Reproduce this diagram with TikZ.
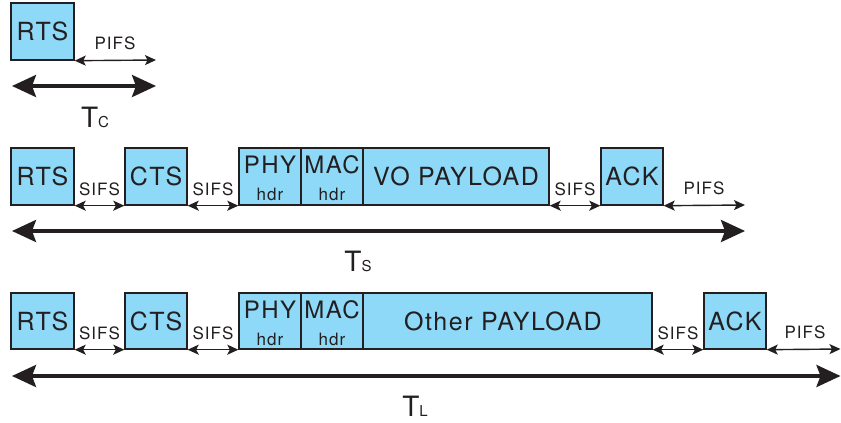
\documentclass[tikz,border=0pt]{standalone}
\usepackage{fontspec}
\setmainfont{TeX Gyre Heros}[LetterSpace=6]
\usetikzlibrary{arrows.meta}
\definecolor{boxblue}{HTML}{8ED8F8}
\definecolor{ink}{HTML}{231F20}
\tikzset{
  fr/.style={draw=ink, line width=1.4pt, fill=boxblue, inner sep=0pt, minimum height=57pt},
  big/.style={font=\fontsize{25}{25}\selectfont, text=ink, inner sep=0pt},
  mid/.style={font=\fontsize{24}{24}\selectfont, text=ink, inner sep=0pt},
  hdr/.style={font=\fontsize{17}{17}\selectfont, text=ink, inner sep=0pt},
  lab/.style={font=\fontsize{17}{17}\selectfont, text=ink, inner sep=0pt},
  tlab/.style={font=\fontsize{28}{28}\selectfont, text=ink, inner sep=0pt, anchor=base},
  sarr/.style={draw=ink, line width=1.4pt, {Stealth[length=11pt,width=10pt,inset=2.5pt]}-{Stealth[length=11pt,width=10pt,inset=2.5pt]}},
  barr/.style={draw=ink, line width=3.6pt, {Stealth[length=24pt,width=22pt,inset=4pt]}-{Stealth[length=24pt,width=22pt,inset=4pt]}}
}
\newcommand{\subT}[1]{T{\fontsize{15}{15}\selectfont #1}}
\begin{document}
\begin{tikzpicture}[x=1pt,y=-1pt]
\useasboundingbox (0,0) rectangle (841,423);
% ---------- Row 1 ----------
\node[fr, minimum width=63pt] (rts1) at (42.5,31.5) {};
\node[big] (trts1) at (rts1.center) {RTS};
\coordinate (p1e) at (156,60);
\draw[sarr] (rts1.south east) -- (p1e);
\node[lab] (pifs1) at (115,43) {PIFS};
\coordinate (c0) at (12,86);
\coordinate (c1) at (156,86);
\draw[barr] (c0) -- (c1);
\node[tlab] (tc) at (95,127) {\subT{C}};
% ---------- Row 2 ----------
\node[fr, minimum width=63pt] (rts2) at (42.5,176.5) {};
\node[big] (trts2) at (rts2.center) {RTS};
\node[fr, minimum width=62pt] (cts2) at (156,176.5) {};
\node[big] (tcts2) at (cts2.center) {CTS};
\node[fr, minimum width=62pt] (phy2) at (270,176.5) {};
\node[mid] (tphy2) at (270,165) {PHY};
\node[hdr] (hphy2) at (270,194.5) {hdr};
\node[fr, minimum width=62pt] (mac2) at (332,176.5) {};
\node[mid] (tmac2) at (332,165) {MAC};
\node[hdr] (hmac2) at (332,194.5) {hdr};
\node[fr, minimum width=186pt] (pay2) at (456,176.5) {};
\node[big] (tpay2) at (pay2.center) {VO PAYLOAD};
\node[fr, minimum width=62pt] (ack2) at (632,176.5) {};
\node[big] (tack2) at (ack2.center) {ACK};
\draw[sarr] (rts2.south east) -- (cts2.south west);
\draw[sarr] (cts2.south east) -- (phy2.south west);
\draw[sarr] (pay2.south east) -- (ack2.south west);
\coordinate (p2e) at (745,205);
\draw[sarr] (ack2.south east) -- (p2e);
\node[lab] (s21) at (99.5,189) {SIFS};
\node[lab] (s22) at (213,189) {SIFS};
\node[lab] (s23) at (575,189) {SIFS};
\node[lab] (pifs2) at (704,188) {PIFS};
\coordinate (s0) at (12,231);
\coordinate (s1) at (745,231);
\draw[barr] (s0) -- (s1);
\node[tlab] (ts) at (358,271) {\subT{S}};
% ---------- Row 3 ----------
\node[fr, minimum width=63pt, minimum height=56pt] (rts3) at (42.5,321) {};
\node[big] (trts3) at (rts3.center) {RTS};
\node[fr, minimum width=62pt, minimum height=56pt] (cts3) at (156,321) {};
\node[big] (tcts3) at (cts3.center) {CTS};
\node[fr, minimum width=62pt, minimum height=56pt] (phy3) at (270,321) {};
\node[mid] (tphy3) at (270,309.5) {PHY};
\node[hdr] (hphy3) at (270,339) {hdr};
\node[fr, minimum width=62pt, minimum height=56pt] (mac3) at (332,321) {};
\node[mid] (tmac3) at (332,309.5) {MAC};
\node[hdr] (hmac3) at (332,339) {hdr};
\node[fr, minimum width=289pt, minimum height=56pt] (pay3) at (507.5,321) {};
\node[big] (tpay3) at (503,321) {Other PAYLOAD};
\node[fr, minimum width=62pt, minimum height=56pt] (ack3) at (735,321) {};
\node[big] (tack3) at (ack3.center) {ACK};
\draw[sarr] (rts3.south east) -- (cts3.south west);
\draw[sarr] (cts3.south east) -- (phy3.south west);
\draw[sarr] (pay3.south east) -- (ack3.south west);
\coordinate (p3e) at (840.5,349);
\draw[sarr] (ack3.south east) -- (p3e);
\node[lab] (s31) at (99.5,333) {SIFS};
\node[lab] (s32) at (213,333) {SIFS};
\node[lab] (s33) at (678,333) {SIFS};
\node[lab] (pifs3) at (805,332) {PIFS};
\coordinate (l0) at (12,376);
\coordinate (l1) at (840.5,376);
\draw[barr] (l0) -- (l1);
\node[tlab] (tl) at (415,416) {\subT{L}};
\end{tikzpicture}
\end{document}
